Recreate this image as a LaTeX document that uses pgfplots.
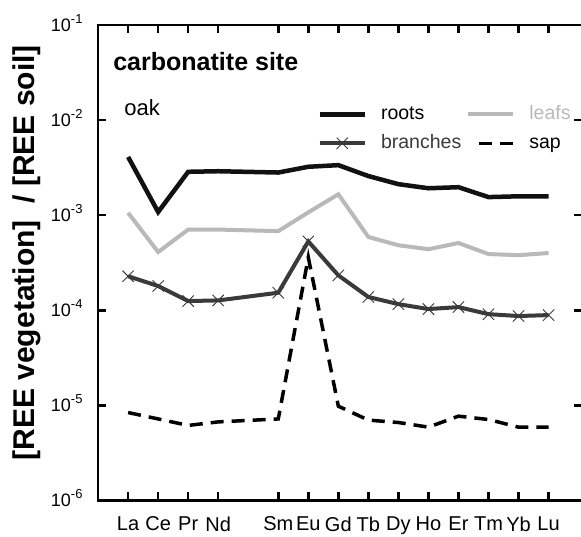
\documentclass[border=0pt]{standalone}
\usepackage{fontspec}
\setmainfont{Liberation Sans}
\usepackage{pgfplots}
\usepackage{pgfplotstable}
\pgfplotsset{compat=1.18}
\definecolor{rootc}{HTML}{111111}
\definecolor{leafc}{HTML}{B9B9B9}
\definecolor{branchc}{HTML}{3A3A3A}
\newcommand\ee[1]{10\raisebox{8pt}{\fontsize{13}{13}\selectfont #1}}
\pgfplotsset{sap legend/.style={legend image code/.code={\draw[##1] (11pt,0pt) -- (45pt,0pt);}}}

% ratio REE vegetation / REE soil, oak, carbonatite site (Pm = 5 left out)
\pgfplotstableread{
x  roots    leafs    branches  sap
1  4.10e-3  1.06e-3  2.28e-4   8.4e-6
2  1.08e-3  4.10e-4  1.80e-4   7.2e-6
3  2.86e-3  7.06e-4  1.25e-4   6.15e-6
4  2.90e-3  7.06e-4  1.27e-4   6.7e-6
6  2.81e-3  6.80e-4  1.53e-4   7.2e-6
7  3.23e-3  1.07e-3  5.30e-4   3.6e-4
8  3.36e-3  1.66e-3  2.33e-4   9.8e-6
9  2.58e-3  5.90e-4  1.38e-4   7.0e-6
10 2.12e-3  4.83e-4  1.16e-4   6.6e-6
11 1.92e-3  4.39e-4  1.03e-4   5.9e-6
12 1.97e-3  5.10e-4  1.08e-4   7.7e-6
13 1.55e-3  3.90e-4  9.10e-5   7.1e-6
14 1.58e-3  3.80e-4  8.70e-5   5.9e-6
15 1.58e-3  4.00e-4  8.90e-5   5.9e-6
}\ree

\begin{document}
\begin{tikzpicture}
\begin{axis}[
    at={(0,0)}, anchor=south west,
    scale only axis, width=484pt, height=475pt,
    ymode=log, ymin=1e-6, ymax=1e-1,
    xmin=0, xmax=16.13,
    xtick={1,2,3,4,6,7,8,9,10,11,12,13,14,15},
    xticklabels={La,Ce,Pr,Nd,Sm,Eu,Gd,Tb,Dy,Ho,Er,Tm,Yb,Lu},
    ytick={1e-6,1e-5,1e-4,1e-3,1e-2,1e-1},
    yticklabels={\ee{-6},\ee{-5},\ee{-4},\ee{-3},\ee{-2},\ee{-1}},
    yminorticks=false,
    tick align=inside,
    major tick length=8pt,
    axis line style={line width=2.5pt},
    tick style={line width=2.5pt, black},
    xticklabel style={font=\fontsize{20}{20}\selectfont, yshift=-13pt},
    yticklabel style={font=\fontsize{18}{18}\selectfont, anchor=base east, yshift=-6.5pt, xshift=-12pt},
    ylabel={[REE vegetation]\ \ / [REE soil]},
    every axis y label/.style={at={(rel axis cs:-0.1467,0.521)}, rotate=90, anchor=center,
        font=\bfseries\fontsize{30}{30}\selectfont},
    legend columns=2,
    legend cell align=left,
    legend style={at={(rel axis cs:0.4463,0.84)}, anchor=north west, draw=none, fill=none,
        font=\fontsize{19.5}{22}\selectfont, row sep=7pt, column sep=12pt,
        nodes={text height=14pt, text depth=4pt, inner sep=2pt},
        /tikz/every even column/.append style={column sep=3pt}},
    legend image code/.code={\draw[mark repeat=2,mark phase=2,#1]
        plot coordinates {(0pt,0pt) (22.5pt,0pt) (45pt,0pt)};},
]
\addplot[rootc, line width=4.5pt] table[x=x, y=roots] {\ree};
\addplot[leafc, line width=4pt] table[x=x, y=leafs] {\ree};
\addplot[branchc, line width=4pt, mark=x, mark size=8pt,
    mark options={solid, line width=0.9pt, draw=branchc}] table[x=x, y=branches] {\ree};
\addplot[black, line width=3.5pt, dash pattern=on 13pt off 8pt, sap legend] table[x=x, y=sap] {\ree};
\legend{roots, \textcolor{leafc}{leafs}, \textcolor{branchc}{branches}, sap}
\end{axis}
\node[anchor=base west, inner sep=0pt, font=\bfseries\fontsize{25}{25}\selectfont] at (15pt,430pt) {carbonatite site};
\node[anchor=base west, inner sep=0pt, font=\fontsize{22}{22}\selectfont] at (26pt,385pt) {oak};
\pgfresetboundingbox
\path[use as bounding box] (-98pt,-36pt) rectangle (482.5pt,500pt);
\end{tikzpicture}
\end{document}
